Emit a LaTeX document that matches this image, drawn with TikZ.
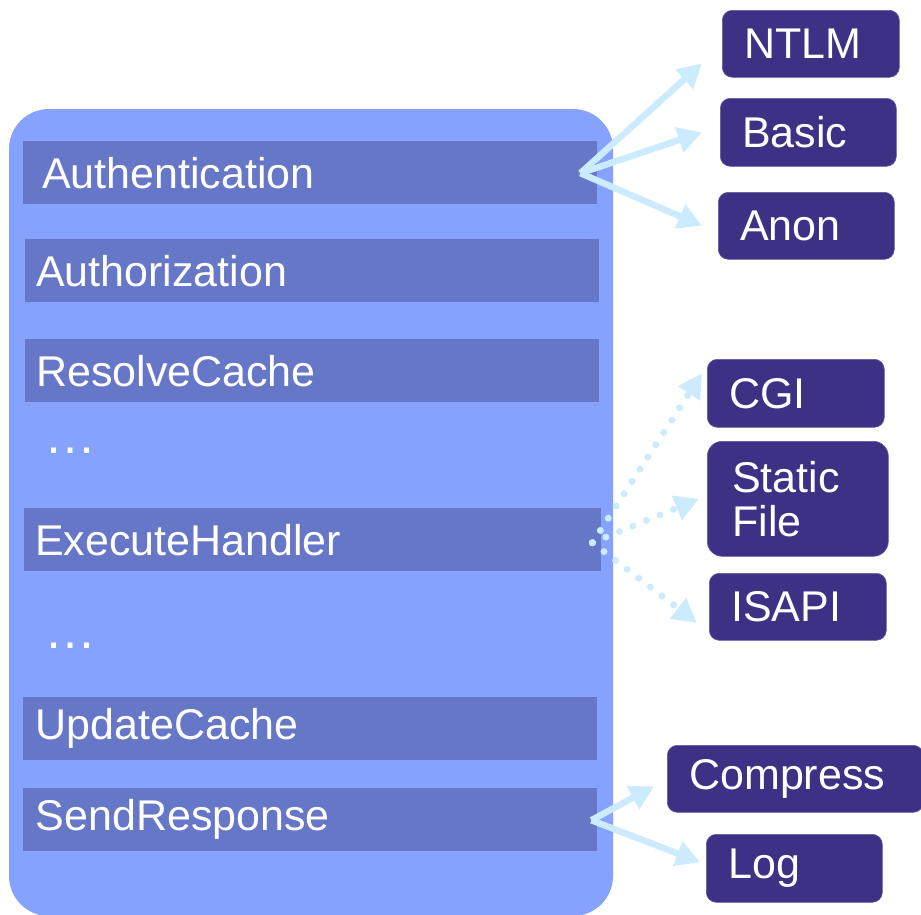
\documentclass[tikz,border=0pt]{standalone}
\usepackage{fontspec}
\setmainfont{Liberation Sans}
\usetikzlibrary{arrows.meta,calc}
\definecolor{outerc}{HTML}{85A2FE}
\definecolor{barc}{HTML}{6677C8}
\definecolor{boxc}{HTML}{3D3185}
\definecolor{arrc}{HTML}{CCEBFE}
\tikzset{
  bigtext/.style={font=\fontsize{43}{44}\selectfont, text=white},
  bar/.style={bigtext, fill=barc, draw=none, anchor=north west, minimum height=63pt,
    align=left, inner ysep=0pt},
  box/.style={bigtext, fill=boxc, draw=boxc!80!white, line width=0.6pt, rounded corners=10pt,
    anchor=north west, align=left, inner ysep=0pt},
  conn/.style={draw=arrc, line width=6.5pt, -{Triangle[length=24pt,width=25pt]}},
  dotconn/.style={conn, line width=7pt, line cap=round, dash pattern=on 0pt off 14.6pt},
  dots/.style={font=\fontsize{52}{52}\selectfont, text=white, anchor=west, inner sep=0pt}
}
\begin{document}
\begin{tikzpicture}[x=1pt,y=-1pt]
\useasboundingbox (0,0) rectangle (921,914);
% outer container
\path[fill=outerc, rounded corners=40pt] (9,109) rectangle (613,916);
% pipeline bars
\node[bar, inner xsep=19pt, text width=536pt] (auth) at (23,141) {Authentication};
\node[bar, inner xsep=11pt, text width=552pt] (authz) at (25,239) {Authorization};
\node[bar, inner xsep=11pt, text width=552pt] (resolve) at (25,339) {ResolveCache};
\node[dots] (dots1) at (44,451) {…};
\node[bar, inner xsep=11pt, text width=555pt] (exec) at (24,508) {ExecuteHandler};
\node[dots] (dots2) at (44,646) {…};
\node[bar, inner xsep=12.5pt, text width=549pt] (update) at (23,697) {UpdateCache};
\node[bar, inner xsep=12.5pt, text width=549pt] (send) at (23,788) {SendResponse};
% modules
\node[box, minimum width=177pt, minimum height=67pt, text width=133pt, inner xsep=22pt] (ntlm) at (722,10) {NTLM};
\node[box, minimum width=176pt, minimum height=68pt, text width=132pt, inner xsep=22pt] (basic) at (720,98) {Basic};
\node[box, minimum width=176pt, minimum height=67pt, text width=132pt, inner xsep=22pt] (anon) at (718,192) {Anon};
\node[box, minimum width=177pt, minimum height=68pt, text width=133pt, inner xsep=22pt] (cgi) at (707,359) {CGI};
\node[box, minimum width=181pt, minimum height=115pt, text width=131pt, inner xsep=25pt, rounded corners=15pt] (static) at (707,441) {Static\\File};
\node[box, minimum width=177pt, minimum height=67pt, text width=133pt, inner xsep=22pt] (isapi) at (709,573) {ISAPI};
\node[box, minimum width=256pt, minimum height=67pt, text width=212pt, inner xsep=22pt] (compress) at (667,745) {Compress};
\node[box, minimum width=176pt, minimum height=68pt, text width=132pt, inner xsep=22pt] (log) at (706,834) {Log};
% connector origins
\coordinate (asrc) at ([xshift=-17pt,yshift=-0.5pt]auth.east);
\coordinate (esrc) at ([xshift=-9pt,yshift=-3pt]exec.east);
\coordinate (ssrc) at ([xshift=-6pt,yshift=-0.5pt]send.east);
% solid connectors
\draw[conn] (asrc) -- ([xshift=-20pt,yshift=-19.5pt]ntlm.west);
\draw[conn] (asrc) -- ([xshift=-18pt]basic.west);
\draw[conn] (asrc) -- ([xshift=-16pt]anon.west);
\draw[conn] (ssrc) -- ([xshift=-13pt,yshift=-7.5pt]compress.west);
\draw[conn] (ssrc) -- ([xshift=-6pt,yshift=6pt]log.west);
% dotted connectors
\draw[dotconn] (esrc) -- ([xshift=-5pt,yshift=20pt]cgi.west);
\draw[dotconn] (esrc) -- ([xshift=-8pt]static.west);
\draw[dotconn] (esrc) -- ([xshift=-12pt,yshift=-16pt]isapi.west);
\end{tikzpicture}
\end{document}
